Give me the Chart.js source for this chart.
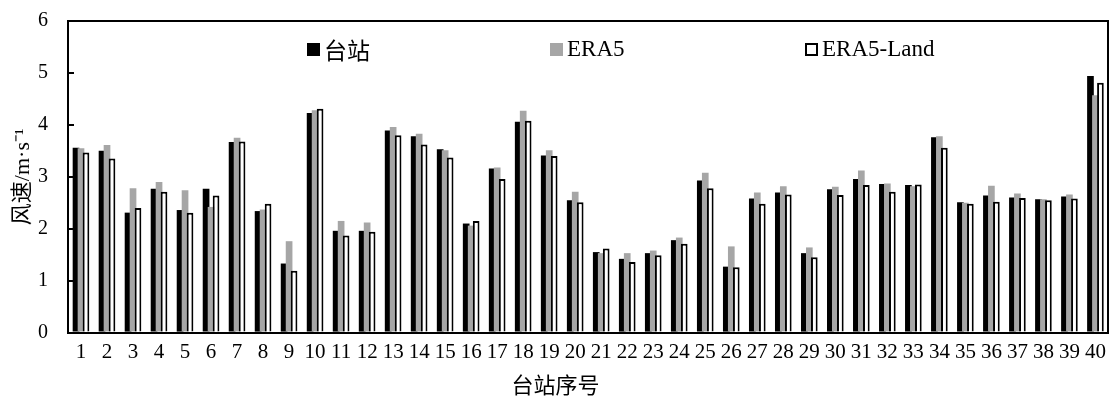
<!DOCTYPE html>
<html>
<head>
<meta charset="utf-8">
<script src="https://cdn.jsdelivr.net/npm/chart.js@4/dist/chart.umd.min.js"></script>
<style>
body { margin: 0; background: #fff; }
#wrap { position: relative; width: 1113px; height: 400px; }
.item { position: absolute; top: 37px; height: 24px; display: flex; align-items: center; white-space: nowrap;
        font: 23px "Liberation Serif", "Noto Sans CJK SC", serif; color: #000; }
.item i { display: inline-block; width: 13px; height: 13px; margin-right: 4px; box-sizing: border-box; }
</style>
</head>
<body>
<div id="wrap">
  <canvas id="windChart" width="1113" height="400"></canvas>
</div>
<script>
const stations = ["1", "2", "3", "4", "5", "6", "7", "8", "9", "10",
    "11", "12", "13", "14", "15", "16", "17", "18", "19", "20",
    "21", "22", "23", "24", "25", "26", "27", "28", "29", "30",
    "31", "32", "33", "34", "35", "36", "37", "38", "39", "40"];

// 台站 observed wind speed
const obs = [3.56, 3.50, 2.31, 2.77, 2.36, 2.77, 3.67, 2.34, 1.33, 4.23,
    1.96, 1.96, 3.89, 3.78, 3.53, 2.10, 3.16, 4.06, 3.41, 2.55,
    1.55, 1.42, 1.53, 1.78, 2.93, 1.27, 2.58, 2.70, 1.53, 2.76,
    2.96, 2.86, 2.84, 3.76, 2.51, 2.64, 2.60, 2.57, 2.62, 4.94];

const era5 = [3.55, 3.61, 2.78, 2.90, 2.74, 2.42, 3.75, 2.37, 1.76, 4.28,
    2.15, 2.12, 3.96, 3.83, 3.51, 2.06, 3.18, 4.27, 3.51, 2.71,
    1.53, 1.53, 1.58, 1.83, 3.08, 1.66, 2.70, 2.82, 1.64, 2.81,
    3.12, 2.87, 2.82, 3.78, 2.50, 2.83, 2.68, 2.57, 2.66, 4.57];

const era5Land = [3.47, 3.35, 2.40, 2.71, 2.31, 2.64, 3.68, 2.48, 1.19, 4.31,
    1.87, 1.94, 3.80, 3.62, 3.37, 2.15, 2.96, 4.08, 3.40, 2.51,
    1.62, 1.36, 1.49, 1.71, 2.78, 1.26, 2.48, 2.66, 1.45, 2.65,
    2.84, 2.71, 2.85, 3.56, 2.48, 2.52, 2.59, 2.55, 2.58, 4.81];

const yMin = 0;
const yMax = 6;
const yStep = 1;

const fontFamily = "'Liberation Serif', 'Noto Sans CJK SC', serif";
Chart.defaults.font.family = fontFamily;
Chart.defaults.color = "#000";

// draw black first, then gray, then white on top (like the Excel overlap)
const drawInOrder = {
    id: "drawInOrder",
    beforeDatasetsDraw(chart) {
        chart.data.datasets.forEach((ds, i) => {
            const meta = chart.getDatasetMeta(i);
            if (!meta.hidden) meta.controller.draw();
        });
        return false;
    }
};

const frame = { display: true, color: "#000", width: 2, z: 1 };

const chart = new Chart(document.getElementById("windChart"), {
    type: "bar",
    data: {
        labels: stations,
        datasets: [{
            label: "台站",
            data: obs,
            backgroundColor: "#000",
            borderWidth: 0
        }, {
            label: "ERA5",
            data: era5,
            backgroundColor: "#a6a6a6",
            borderWidth: 0
        }, {
            label: "ERA5-Land",
            data: era5Land,
            backgroundColor: "#fff",
            borderColor: "#000",
            borderWidth: 2
        }]
    },
    options: {
        responsive: false,
        animation: false,
        categoryPercentage: 0.575,
        barPercentage: 1.34,
        layout: { padding: { top: 21, right: 2, left: 0, bottom: 0 } },
        plugins: {
            legend: { display: false },
            tooltip: { enabled: false },
            title: {
                display: true,
                position: "bottom",
                text: "台站序号",
                color: "#000",
                font: { size: 22, weight: "normal" },
                padding: { top: 0, bottom: 0 }
            }
        },
        scales: {
            x: {
                offset: true,
                grid: { display: false, drawTicks: false },
                border: frame,
                ticks: {
                    color: "#000",
                    font: { size: 21 },
                    padding: 7,
                    autoSkip: false,
                    maxRotation: 0,
                    minRotation: 0
                },
                afterFit(scale) { scale.height = 41; }
            },
            y: {
                min: yMin,
                max: yMax,
                ticks: { stepSize: yStep, color: "#000", font: { size: 20 }, padding: 26 },
                grid: { drawOnChartArea: false, tickLength: -6, color: "#000", lineWidth: 2, z: 1 },
                border: frame,
                title: {
                    display: true,
                    text: "风速/m·s⁻¹",
                    color: "#000",
                    font: { size: 22 },
                    padding: { top: 10, bottom: 0 }
                },
                afterFit(scale) {
                    scale.width = 68;
                    scale.paddingTop = 0;
                    scale.paddingBottom = 0;
                }
            },
            x2: {
                type: "category",
                position: "top",
                grid: { display: false, drawTicks: false },
                ticks: { display: false },
                border: frame,
                afterFit(scale) { scale.height = 0; }
            },
            y2: {
                type: "linear",
                position: "right",
                grid: { display: false, drawTicks: false },
                ticks: { display: false },
                border: frame,
                afterFit(scale) { scale.width = 0; }
            }
        }
    },
    plugins: [drawInOrder]
});

// legend sits inside the plot, like the original
const legendLeft = [307, 550, 805];
const wrap = document.getElementById("wrap");
chart.data.datasets.forEach((ds, i) => {
    const item = document.createElement("div");
    item.className = "item";
    item.style.left = legendLeft[i] + "px";
    const box = document.createElement("i");
    box.style.background = ds.backgroundColor;
    if (ds.borderWidth) box.style.border = ds.borderWidth + "px solid " + ds.borderColor;
    item.appendChild(box);
    item.appendChild(document.createTextNode(ds.label));
    wrap.appendChild(item);
});
</script>
</body>
</html>
